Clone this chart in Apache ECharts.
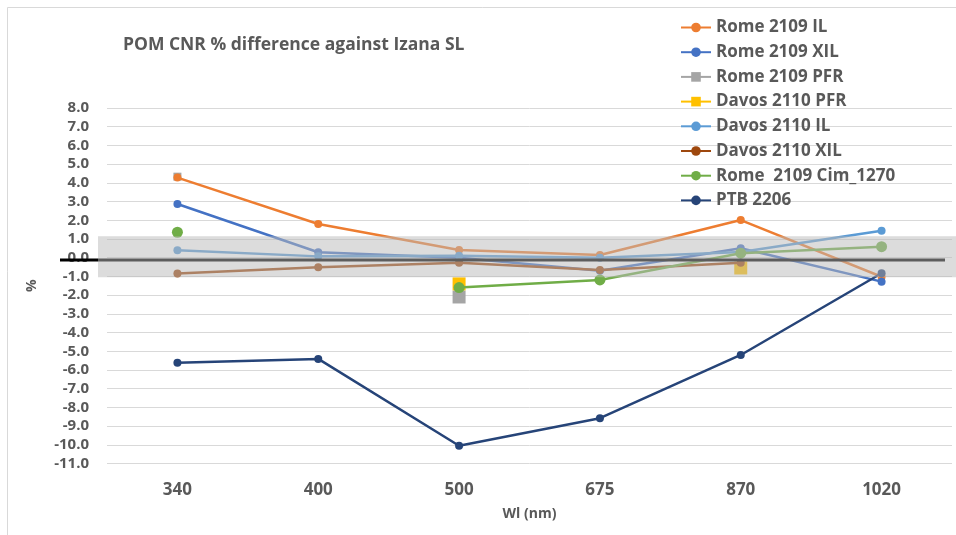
<!DOCTYPE html>
<html>
<head>
<meta charset="utf-8">
<script src="https://cdn.jsdelivr.net/npm/echarts@6/dist/echarts.min.js"></script>
<style>html,body{margin:0;padding:0;background:#fff}#c{width:956px;height:535px}</style>
</head>
<body>
<div id="c"></div>
<script>
const categories = ['340', '400', '500', '675', '870', '1020'];
const rome2109IL = [4.28, 1.80, 0.41, 0.14, 2.01, -1.02];
const rome2109XIL = [2.87, 0.29, 0.0, -0.70, 0.50, -1.28];
const rome2109PFR = [4.33, null, -2.10, null, null, null];
const davos2110PFR = [null, null, -1.40, null, -0.55, null];
const davos2110IL = [0.40, 0.07, 0.10, 0.0, 0.30, 1.44];
const davos2110XIL = [-0.85, -0.51, -0.27, -0.66, -0.27, null];
const rome2109Cim = [1.36, null, -1.60, -1.19, 0.24, 0.59];
const ptb2206 = [-5.61, -5.41, -10.05, -8.58, -5.20, -0.83];
const yTicks = { min: -11, max: 8, interval: 1 };
const bandRange = [-1.05, 1.15];
const zeroLineValue = -0.13;

const FONT = '"Open Sans", sans-serif';
const TXT = '#595959';

function lineSeries(name, data, color, symbol, size, z) {
  return {
    name: name, type: 'line', data: data,
    symbol: symbol, symbolSize: size,
    connectNulls: false, z: z || 2,
    lineStyle: { color: color, width: 2.5 },
    itemStyle: { color: color },
    emphasis: { disabled: true },
    animation: false
  };
}

const chart = echarts.init(document.getElementById('c'));
chart.setOption({
  animation: false,
  backgroundColor: '#fff',
  title: {
    text: 'POM CNR % difference against Izana SL',
    left: 118, top: 31,
    textStyle: { fontFamily: FONT, fontSize: 17.5, fontWeight: 'bold', color: TXT }
  },
  legend: {
    orient: 'vertical', left: 675, top: 14,
    itemWidth: 30, itemHeight: 12, itemGap: 7.7,
    textStyle: { fontFamily: FONT, fontSize: 17, fontWeight: 'bold', color: TXT, lineHeight: 16 },
    data: ['Rome 2109 IL', 'Rome 2109 XIL', 'Rome 2109 PFR', 'Davos 2110 PFR', 'Davos 2110 IL', 'Davos 2110 XIL', 'Rome  2109 Cim_1270', 'PTB 2206']
  },
  grid: { left: 107, right: 4, top: 108, bottom: 71.5 },
  xAxis: {
    type: 'category', data: categories, boundaryGap: true,
    name: 'Wl (nm)', nameLocation: 'middle', nameGap: 44,
    nameTextStyle: { fontFamily: FONT, fontSize: 14, fontWeight: 'bold', color: TXT },
    axisLine: { show: false }, axisTick: { show: false },
    axisLabel: { margin: 18, fontFamily: FONT, fontSize: 17, fontWeight: 'bold', color: TXT }
  },
  yAxis: {
    type: 'value', min: yTicks.min, max: yTicks.max, interval: yTicks.interval,
    name: '%', nameLocation: 'middle', nameGap: 68,
    nameTextStyle: { fontFamily: FONT, fontSize: 14, fontWeight: 'bold', color: TXT },
    axisLine: { show: false }, axisTick: { show: false },
    axisLabel: { margin: 18, fontFamily: FONT, fontSize: 15, fontWeight: 'bold', color: TXT,
      formatter: v => v.toFixed(1) },
    splitLine: { lineStyle: { color: '#d9d9d9', width: 1 } }
  },
  series: [
    lineSeries('Rome 2109 IL', rome2109IL, '#ED7D31', 'circle', 8),
    lineSeries('Rome 2109 XIL', rome2109XIL, '#4472C4', 'circle', 8),
    lineSeries('Rome 2109 PFR', rome2109PFR, '#A5A5A5', 'rect', (v, p) => p.dataIndex === 0 ? 8 : 13, 1),
    lineSeries('Davos 2110 PFR', davos2110PFR, '#FFC000', 'rect', 13, 1.5),
    lineSeries('Davos 2110 IL', davos2110IL, '#5B9BD5', 'circle', 8),
    lineSeries('Davos 2110 XIL', davos2110XIL, '#9E480E', 'circle', 8),
    lineSeries('Rome  2109 Cim_1270', rome2109Cim, '#70AD47', 'circle', 11),
    lineSeries('PTB 2206', ptb2206, '#264478', 'circle', 8)
  ]
});

const yTop = chart.convertToPixel({ yAxisIndex: 0 }, bandRange[1]);
const yBot = chart.convertToPixel({ yAxisIndex: 0 }, bandRange[0]);
const yZero = chart.convertToPixel({ yAxisIndex: 0 }, zeroLineValue);
chart.setOption({
  graphic: [
    { type: 'rect', shape: { x: 7.5, y: 7.5, width: 1000, height: 1000 },
      style: { fill: 'none', stroke: '#d9d9d9', lineWidth: 1 }, z: 0, silent: true },
    { type: 'line', shape: { x1: 60, y1: yZero, x2: 945, y2: yZero },
      style: { stroke: '#000', lineWidth: 3 }, z: 50, silent: true },
    { type: 'rect', shape: { x: 98, y: yTop, width: 860, height: yBot - yTop },
      style: { fill: 'rgba(185,185,185,0.5)' }, z: 100, silent: true }
  ]
});
</script>
</body>
</html>
